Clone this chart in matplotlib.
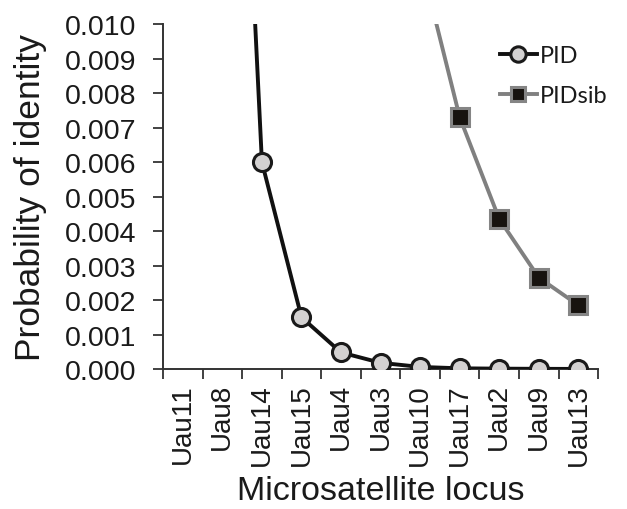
import matplotlib.pyplot as plt

loci = ["Uau11", "Uau8", "Uau14", "Uau15", "Uau4", "Uau3",
        "Uau10", "Uau17", "Uau2", "Uau9", "Uau13"]

# values; the first ones run off the top of the axis
pid = [0.15, 0.0295, 0.0060, 0.0015, 0.00048, 0.00018,
       0.00006, 0.00002, 0.00001, 0.000005, 0.000002]
pid_sib = [0.30, 0.15, 0.08, 0.04, 0.02, 0.02,
           0.0119, 0.0073, 0.00435, 0.00265, 0.00185]

yticks = [0.000, 0.001, 0.002, 0.003, 0.004, 0.005,
          0.006, 0.007, 0.008, 0.009, 0.010]

plt.rcParams['font.family'] = ['Liberation Sans', 'DejaVu Sans']

fig = plt.figure(figsize=(6.27, 5.10), dpi=100)
ax = fig.add_axes([0.26, 0.2745, 0.694, 0.676])

x = list(range(len(loci)))

ax.plot(x, pid, color="#111111", linewidth=2.8, marker="o", markersize=13,
        markerfacecolor="#d3d1d1", markeredgecolor="#1a1a1a",
        markeredgewidth=2.2, label="PID", zorder=3)
ax.plot(x, pid_sib, color="#808080", linewidth=2.8, marker="s", markersize=12.5,
        markerfacecolor="#17130f", markeredgecolor="#858585",
        markeredgewidth=2.2, label="PIDsib", zorder=2)

ax.set_xlim(-0.5, len(loci) - 0.5)
ax.set_ylim(0, 0.010)
ax.set_yticks(yticks)
ax.set_yticklabels([f"{v:.3f}" for v in yticks])
ax.set_xticks(x)
ax.set_xticklabels(loci, rotation=90)
ax.set_xticks([i - 0.5 for i in range(len(loci) + 1)], minor=True)
ax.tick_params(axis="x", which="major", length=0, labelsize=20, pad=10,
               colors="#1a1a1a")
ax.tick_params(axis="x", which="minor", length=7, width=1.3, color="#333333")
ax.tick_params(axis="y", length=7, width=1.3, labelsize=20.5, pad=12,
               color="#333333", labelcolor="#1a1a1a")

for s in ["top", "right"]:
    ax.spines[s].set_visible(False)
for s in ["left", "bottom"]:
    ax.spines[s].set_linewidth(1.4)
    ax.spines[s].set_color("#333333")

ax.set_xlabel("Microsatellite locus", fontsize=24.5, color="#1a1a1a")
ax.xaxis.label.set_va("baseline")
ax.xaxis.set_label_coords(0.5, -0.376)
ax.set_ylabel("Probability of identity", fontsize=25.5, color="#1a1a1a",
              labelpad=13)

leg = ax.legend(loc="upper right", bbox_to_anchor=(1.07, 1.0), frameon=False,
                handlelength=1.6, handletextpad=0.1, labelspacing=0.8,
                markerscale=0.85, prop={"family": "Lato", "size": 17})
for t in leg.get_texts():
    t.set_color("#1a1a1a")

fig.savefig("out.png", dpi=100, facecolor="white")
